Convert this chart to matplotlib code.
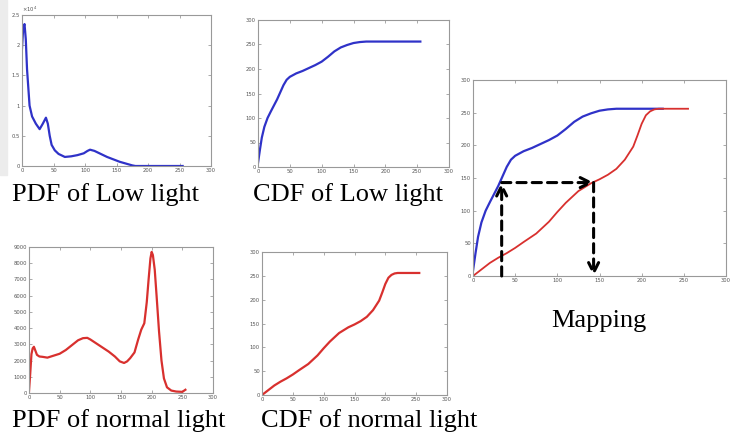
import numpy as np
import matplotlib.pyplot as plt
from matplotlib.patches import Rectangle

# PDF of low light (values in units of 1e4)
pdf_low_x = [0, 2, 4, 6, 8, 12, 16, 22, 28, 33, 38, 41, 44, 47, 52, 58, 68, 78, 88, 98, 104, 108, 115, 125, 135, 145, 155, 165, 175, 180, 200, 230, 255]
pdf_low_y = [1.95, 2.3, 2.35, 2.1, 1.6, 1.0, 0.82, 0.7, 0.61, 0.7, 0.8, 0.7, 0.5, 0.35, 0.26, 0.2, 0.15, 0.16, 0.18, 0.21, 0.25, 0.27, 0.25, 0.2, 0.15, 0.11, 0.07, 0.04, 0.01, 0.0, 0.0, 0.0, 0.0]

# CDF of low light
cdf_low_x = [0, 3, 6, 10, 15, 20, 30, 40, 45, 50, 60, 70, 80, 90, 100, 110, 120, 130, 140, 150, 160, 170, 200, 225, 255]
cdf_low_y = [8, 35, 60, 82, 100, 113, 138, 167, 178, 184, 191, 196, 202, 208, 215, 225, 236, 244, 249, 253, 255, 256, 256, 256, 256]

# PDF of normal light
pdf_norm_x = [0, 2, 4, 6, 8, 10, 13, 17, 22, 30, 40, 50, 60, 70, 80, 88, 95, 100, 110, 120, 130, 140, 148, 155, 160, 165, 172, 178, 183, 188, 192, 195, 198, 200, 202, 205, 208, 212, 216, 220, 225, 232, 240, 250, 255]
pdf_norm_y = [100, 1200, 2400, 2750, 2850, 2650, 2350, 2250, 2230, 2180, 2300, 2420, 2650, 2950, 3250, 3380, 3400, 3300, 3050, 2800, 2550, 2250, 1950, 1850, 1950, 2150, 2500, 3300, 3900, 4300, 5600, 7000, 8300, 8700, 8500, 7600, 6000, 3800, 2000, 900, 350, 150, 90, 70, 200]

# CDF of normal light
cdf_norm_x = [0, 5, 10, 20, 30, 40, 50, 60, 75, 90, 100, 110, 125, 140, 150, 160, 170, 180, 190, 195, 200, 205, 210, 215, 220, 230, 255]
cdf_norm_y = [0, 5, 10, 20, 28, 35, 43, 52, 65, 83, 98, 112, 130, 142, 148, 155, 164, 178, 198, 215, 233, 246, 252, 255, 256, 256, 256]

# mapping example: input level -> matched CDF value -> output level
map_in = 34
map_level = 143
map_out = 143

ticks = [0, 50, 100, 150, 200, 250, 300]
W, H = 739, 432
blue = '#2f32c8'
red = '#d8302e'


def make_ax(fig, x0, x1, y0, y1):
    ax = fig.add_axes([x0 / W, 1 - y1 / H, (x1 - x0) / W, (y1 - y0) / H])
    ax.set_xlim(0, 300)
    ax.set_xticks(ticks)
    ax.tick_params(direction='in', length=2, width=0.5, labelsize=3.8,
                   labelcolor='#555555', color='#888888', pad=1.5,
                   top=True, right=True)
    for s in ax.spines.values():
        s.set_color('#999999')
        s.set_linewidth(0.8)
    return ax


fig = plt.figure(figsize=(W / 100, H / 100), dpi=100)
fig.patches.append(Rectangle((0, 1 - 175 / H), 7 / W, 175 / H,
                             transform=fig.transFigure, color='#ececec', zorder=0))

# PDF low light
ax1 = make_ax(fig, 22, 211, 15, 166)
ax1.plot(pdf_low_x, pdf_low_y, color=blue, lw=1.6)
ax1.set_ylim(0, 2.5)
ax1.set_yticks([0, 0.5, 1, 1.5, 2, 2.5])
ax1.set_yticklabels(['0', '0.5', '1', '1.5', '2', '2.5'])
ax1.text(0.0, 1.005, r'$\times 10^4$', transform=ax1.transAxes, fontsize=3.8,
         color='#555555', va='bottom', ha='left')

# CDF low light
ax2 = make_ax(fig, 258, 449, 20, 167)
ax2.plot(cdf_low_x, cdf_low_y, color=blue, lw=1.6)
ax2.set_ylim(0, 300)
ax2.set_yticks(ticks)

# Mapping
ax3 = make_ax(fig, 473, 726, 80, 276)
lx = np.array(cdf_low_x)
ly = np.array(cdf_low_y)
ax3.plot(lx[lx <= 225], ly[lx <= 225], color=blue, lw=1.6)
ax3.plot(cdf_norm_x, cdf_norm_y, color=red, lw=1.3)
ax3.set_ylim(0, 300)
ax3.set_yticks(ticks)
arr = dict(arrowstyle='->', color='black', lw=2.2, linestyle=(0, (3, 2)),
           mutation_scale=18, shrinkA=0, shrinkB=0)
ax3.annotate('', xy=(map_in, map_level), xytext=(map_in, 0), arrowprops=arr)
ax3.annotate('', xy=(map_out, map_level), xytext=(map_in, map_level), arrowprops=arr)
ax3.annotate('', xy=(map_out, 0), xytext=(map_out, map_level), arrowprops=arr)

# PDF normal light
ax4 = make_ax(fig, 29, 213, 247, 393)
ax4.plot(pdf_norm_x, pdf_norm_y, color=red, lw=1.6)
ax4.set_ylim(0, 9000)
ax4.set_yticks(range(0, 9001, 1000))

# CDF normal light
ax5 = make_ax(fig, 262, 447, 252, 395)
ax5.plot(cdf_norm_x, cdf_norm_y, color=red, lw=1.6)
ax5.set_ylim(0, 300)
ax5.set_yticks(ticks)

cap = dict(fontsize=19, family='Liberation Serif', va='baseline', ha='left')
fig.text(12 / W, 1 - 201 / H, 'PDF of Low light', **cap)
fig.text(253 / W, 1 - 201 / H, 'CDF of Low light', **cap)
fig.text(551 / W, 1 - 327 / H, 'Mapping', **cap)
fig.text(12 / W, 1 - 427 / H, 'PDF of normal light', **cap)
fig.text(261 / W, 1 - 427 / H, 'CDF of normal light', **cap)

fig.savefig('out.png', dpi=100)
